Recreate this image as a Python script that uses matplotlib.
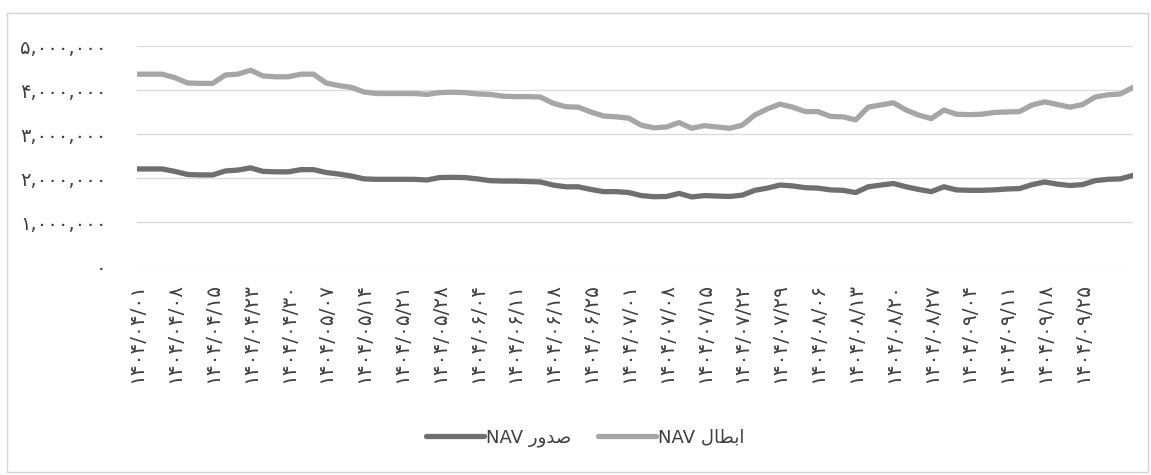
import matplotlib
matplotlib.use("Agg")
import matplotlib.pyplot as plt
from matplotlib.patches import Rectangle
from matplotlib.ticker import FuncFormatter

# month/day pairs of the labelled dates (every third point)
tick_dates = [
    "04/01", "04/08", "04/15", "04/23", "04/30", "05/07", "05/14", "05/21", "05/28",
    "06/04", "06/11", "06/18", "06/25", "07/01", "07/08", "07/15", "07/22", "07/29",
    "08/06", "08/13", "08/20", "08/27", "09/04", "09/11", "09/18", "09/25",
]
year = "1404"
tick_step = 3

# NAV ابطال (redemption), millions
nav_ebtal = [
    4.36, 4.36, 4.36, 4.28, 4.16, 4.15, 4.15, 4.34, 4.36, 4.45,
    4.32, 4.30, 4.30, 4.36, 4.36, 4.16, 4.10, 4.06, 3.955, 3.92,
    3.92, 3.92, 3.92, 3.90, 3.94, 3.95, 3.94, 3.91, 3.90, 3.86,
    3.85, 3.85, 3.84, 3.70, 3.62, 3.61, 3.50, 3.41, 3.39, 3.36,
    3.20, 3.14, 3.16, 3.26, 3.13, 3.19, 3.16, 3.13, 3.20, 3.43,
    3.57, 3.68, 3.61, 3.51, 3.51, 3.40, 3.39, 3.32, 3.61, 3.66,
    3.71, 3.545, 3.43, 3.35, 3.545, 3.45, 3.44, 3.45, 3.49, 3.50,
    3.51, 3.66, 3.73, 3.67, 3.61, 3.67, 3.84, 3.89, 3.91, 4.06,
]

# NAV صدور (issue), millions
nav_sodur = [
    2.205, 2.205, 2.205, 2.15, 2.08, 2.07, 2.07, 2.16, 2.18, 2.23,
    2.15, 2.14, 2.14, 2.19, 2.19, 2.125, 2.09, 2.045, 1.98, 1.97,
    1.97, 1.97, 1.97, 1.955, 2.01, 2.015, 2.01, 1.98, 1.94, 1.93,
    1.93, 1.92, 1.91, 1.84, 1.80, 1.80, 1.74, 1.69, 1.69, 1.67,
    1.60, 1.575, 1.58, 1.65, 1.57, 1.60, 1.59, 1.58, 1.61, 1.72,
    1.77, 1.84, 1.82, 1.78, 1.77, 1.73, 1.72, 1.67, 1.80, 1.84,
    1.875, 1.80, 1.74, 1.69, 1.80, 1.73, 1.72, 1.72, 1.73, 1.75,
    1.76, 1.85, 1.91, 1.86, 1.83, 1.85, 1.94, 1.97, 1.98, 2.06,
]

FA_DIGITS = str.maketrans("0123456789", "۰۱۲۳۴۵۶۷۸۹")

def fa(s):
    return s.translate(FA_DIGITS)

# matplotlib does no Arabic shaping: write the presentation forms in visual order
LABEL_SODUR = "NAV " + "\uFEAD\uFEED\uFEAA\uFEBB"          # صدور
LABEL_EBTAL = "NAV " + "\uFEDD\uFE8E\uFEC4\uFE91\uFE8D"    # ابطال

plt.rcParams['font.family'] = ['DejaVu Sans']
TEXT = '#404040'

fig = plt.figure(figsize=(11.51, 4.75), dpi=100)
ax = fig.add_axes([137 / 1151, 1 - 266 / 475, (1133 - 137) / 1151, 220 / 475])

x = list(range(len(nav_ebtal)))
vals_sodur = [v * 1e6 for v in nav_sodur]
vals_ebtal = [v * 1e6 for v in nav_ebtal]

ax.plot(x, vals_sodur, color='#6f6f6f', lw=3.8, solid_capstyle='round',
        solid_joinstyle='round', label=LABEL_SODUR, zorder=3)
ax.plot(x, vals_ebtal, color='#a6a6a6', lw=3.8, solid_capstyle='round',
        solid_joinstyle='round', label=LABEL_EBTAL, zorder=3)

ax.set_xlim(0, len(x) - 1)
ax.set_ylim(0, 5e6)
ax.set_yticks([0, 1e6, 2e6, 3e6, 4e6, 5e6])
ax.yaxis.set_major_formatter(FuncFormatter(lambda v, p: fa(f"{int(v):,}")))
ax.grid(axis='y', color='#d9d9d9', lw=0.9)
ax.set_axisbelow(True)
for s in ax.spines.values():
    s.set_visible(False)

tick_pos = [i * tick_step for i in range(len(tick_dates))]
ax.set_xticks(tick_pos)
ax.set_xticklabels([fa(f"{year}/{d}") for d in tick_dates], rotation=90,
                   ha='center', va='top')
ax.tick_params(axis='x', length=0, pad=12, labelsize=14.5, labelcolor=TEXT)
ax.tick_params(axis='y', length=0, pad=22, labelsize=14, labelcolor=TEXT)

leg = fig.legend(loc='center', bbox_to_anchor=(585 / 1151, 37 / 475), ncol=2,
                 frameon=False, fontsize=13, handlelength=3.2, handletextpad=0.1,
                 columnspacing=1.5)
for t in leg.get_texts():
    t.set_color(TEXT)

# light chart-area border
fig.patches.append(Rectangle((7 / 1151, 3 / 475), 1141 / 1151, 459 / 475,
                             transform=fig.transFigure, fill=False,
                             edgecolor='#d4d4d4', lw=1.0))

fig.savefig("out.png", dpi=100, facecolor='white')
